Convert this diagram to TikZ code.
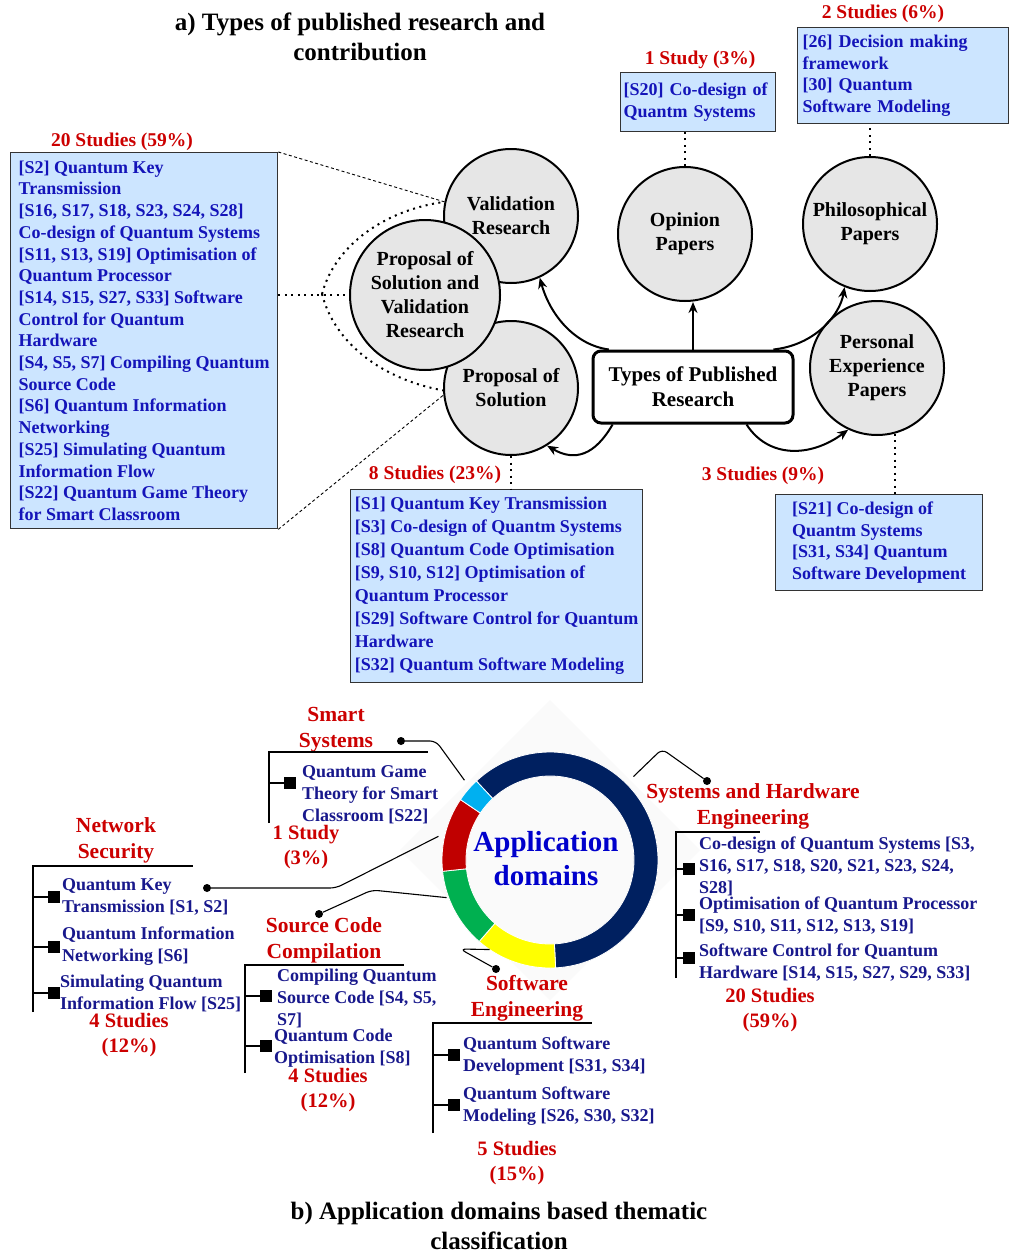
\documentclass[tikz,border=0pt]{standalone}
\usepackage{fontspec}
\setmainfont{Liberation Serif}
\usetikzlibrary{arrows.meta,positioning,calc}

\definecolor{boxblue}{RGB}{204,229,255}
\definecolor{listblue}{RGB}{20,20,185}
\definecolor{itemblue}{RGB}{24,24,140}
\definecolor{appblue}{RGB}{0,0,204}
\definecolor{studyred}{RGB}{204,0,0}
\definecolor{circlegray}{RGB}{230,230,230}
\definecolor{ringnavy}{RGB}{0,32,96}
\definecolor{ringcyan}{RGB}{0,176,240}
\definecolor{ringred}{RGB}{192,0,0}
\definecolor{ringgreen}{RGB}{0,176,80}
\definecolor{ringyellow}{RGB}{255,255,0}

\tikzset{
    type-circle/.style = {draw=black, fill=circlegray, line width=2pt, circle, minimum size=134pt, inner sep=0pt, align=center, font=\bfseries\fontsize{20}{24}\selectfont},
    type-box/.style = {draw=black, fill=white, line width=3pt, rectangle, rounded corners=8pt, minimum width=200pt, minimum height=72pt, align=center, font=\bfseries\fontsize{21}{25}\selectfont},
    study-box/.style = {draw=black!80, fill=boxblue, line width=1.3pt, rectangle, anchor=north west, inner ysep=0pt, align=left, text=listblue, font=\bfseries\fontsize{18}{21.7}\selectfont},
    study-count/.style = {text=studyred, inner sep=0pt, font=\bfseries\fontsize{19.5}{23}\selectfont},
    type-arrow/.style = {-{Stealth[length=11pt,width=9pt]}, line width=2pt},
    dotted-link/.style = {line width=2pt, dash pattern=on 2pt off 4.5pt},
    dashed-link/.style = {line width=0.9pt, dash pattern=on 3pt off 2.5pt},
    title-text/.style = {align=center, inner sep=0pt, font=\bfseries\fontsize{25}{30}\selectfont},
    domain-label/.style = {align=center, inner sep=0pt, text=studyred, font=\bfseries\fontsize{21.5}{26}\selectfont},
    count-label/.style = {align=center, inner sep=0pt, text=studyred, font=\bfseries\fontsize{20.5}{25}\selectfont},
    item-text/.style = {anchor=west, align=left, inner sep=0pt, text=itemblue, font=\bfseries\fontsize{18}{22}\selectfont},
    item-mark/.style = {rectangle, fill=black, minimum size=12pt, inner sep=0pt},
    tree-line/.style = {line width=2.5pt},
    stub-line/.style = {line width=2pt},
    leader/.style = {line width=1.1pt, rounded corners=6pt},
    leader-dot/.style = {circle, fill=black, minimum size=8pt, inner sep=0pt},
}

\begin{document}
\begin{tikzpicture}[x=1pt,y=-1pt]
\path[use as bounding box, fill=white] (0,0) rectangle (1010,1255);

% ---------- a) types of published research
\node[title-text] (title-a) at (360,37) {a) Types of published research and\\contribution};

\node[study-box, minimum width=267pt, minimum height=376pt] (lbox) at (10,152)
  {[S2] Quantum Key\\Transmission\\{}[S16, S17, S18, S23, S24, S28]\\Co-design of Quantum Systems\\
   {}[S11, S13, S19] Optimisation of\\Quantum Processor\\{}[S14, S15, S27, S33] Software\\
   Control for Quantum\\Hardware\\{}[S4, S5, S7] Compiling Quantum\\Source Code\\
   {}[S6] Quantum Information\\Networking\\{}[S25] Simulating Quantum\\Information Flow\\
   {}[S22] Quantum Game Theory\\for Smart Classroom};
\node[study-count] (lbox-count) at (122,142) {20 Studies (59\%)};

\node[study-box, inner xsep=3pt, text width=149pt, minimum height=59pt] (s20-box) at (620,72)
  {[S20] Co-design of\\Quantm Systems};
\node[study-count] (s20-count) at (700,60) {1 Study (3\%)};

\node[study-box, inner xsep=5pt, text width=201pt, minimum height=96pt] (phil-box) at (797,27)
  {[26] Decision making\\framework\\{}[30] Quantum\\Software Modeling};
\node[study-count] (phil-count) at (883,14) {2 Studies (6\%)};

\node[study-box, minimum width=292pt, minimum height=193pt, font=\bfseries\fontsize{18}{23}\selectfont] (sol-box) at (350,489)
  {[S1] Quantum Key Transmission\\{}[S3] Co-design of Quantm Systems\\{}[S8] Quantum Code Optimisation\\
   {}[S9, S10, S12] Optimisation of\\Quantum Processor\\{}[S29] Software Control for Quantum\\
   Hardware\\{}[S32] Quantum Software Modeling};
\node[study-count] (sol-count) at (435,475) {8 Studies (23\%)};

\node[study-box, minimum width=207pt, minimum height=96pt] (exp-box) at (775,494)
  {[S21] Co-design of\\Quantm Systems\\{}[S31, S34] Quantum\\Software Development};
\node[study-count] (exp-count) at (763,476) {3 Studies (9\%)};

\node[type-circle] (validation) at (511,216) {Validation\\Research};
\node[type-circle] (proposal) at (511,388) {Proposal of\\Solution};
\node[type-circle] (opinion) at (685,234) {Opinion\\Papers};
\node[type-circle] (philosophical) at (870,224) {Philosophical\\Papers};
\node[type-circle] (personal) at (877,368) {Personal\\Experience\\Papers};
\node[type-box] (types) at (693,387) {Types of Published\\Research};

% links from the left box
\coordinate (fan) at (322,294);
\draw[dashed-link] (lbox.north east) -- (validation.168);
\draw[dashed-link] (lbox.south east) -- (proposal.186);
\draw[dotted-link] (fan) .. controls (335,245) and (385,210) .. (validation.168);
\draw[dotted-link] (fan) .. controls (335,345) and (385,380) .. (proposal.182);

\node[type-circle, minimum size=150pt] (propval) at (425,295) {Proposal of\\Solution and\\Validation\\Research};
\draw[dotted-link] (lbox.east |- propval.west) -- (propval.west);

% links to the other boxes
\draw[dotted-link] (opinion.north) -- (opinion.north |- s20-box.south);
\draw[dotted-link] (philosophical.north) -- (philosophical.north |- phil-box.south);
\draw[dotted-link] (proposal.south) -- (proposal.south |- sol-box.north);
\draw[dotted-link] (personal.-75) -- (personal.-75 |- exp-box.north);

% arrows from the centre box
\draw[type-arrow] (types.156) .. controls (575,345) and (550,315) .. (validation.-65);
\draw[type-arrow] (types.north) -- (types.north |- opinion.south);
\draw[type-arrow] (types.25) .. controls (815,345) and (840,315) .. (philosophical.-112);
\draw[type-arrow] (types.205) .. controls (595,455) and (575,462) .. (proposal.-58);
\draw[type-arrow] (types.-35) .. controls (768,458) and (810,458) .. (personal.-115);

% ---------- b) application domains
\fill[black!2] (550,700) -- (700,850) -- (550,1000) -- (400,850) -- cycle;
\begin{scope}[shift={(550,860)}, y=1pt]
  \foreach \a/\b/\c in {133/-87/ringnavy, -87/-131/ringyellow, -131/-174/ringgreen, 186/146/ringred, 146/133/ringcyan}
    \filldraw[fill=\c, draw=white, line width=0.8pt] (\a:108) arc[start angle=\a, end angle=\b, radius=108]
      -- (\b:84) arc[start angle=\b, end angle=\a, radius=84] -- cycle;
  \coordinate (ring-cyan) at (137:117);
  \coordinate (ring-red) at (168:114);
  \coordinate (ring-green) at (200:110);
  \coordinate (ring-yellow) at (236:108);
  \coordinate (ring-navy) at (45:118);
\end{scope}
\node[align=center, text=appblue, font=\bfseries\fontsize{29}{34}\selectfont] (app) at (546,859) {Application\\domains};

% smart systems
\node[domain-label] (smart-label) at (336,730) {Smart\\Systems};
\node[leader-dot] (smart-dot) at (401,741) {};
\draw[leader] (smart-dot) -- (436,741) -- (ring-cyan);
\draw[tree-line] (269,823) |- (428,752);
\node[item-mark] (smart-m1) at (290,783) {};
\draw[stub-line] (269,783) -- (smart-m1);
\node[item-text] (smart-t1) at (302,795) {Quantum Game\\Theory for Smart\\Classroom [S22]};
\node[count-label] (smart-count) at (306,847) {1 Study\\(3\%)};

% network security
\node[domain-label] (net-label) at (116,840) {Network\\Security};
\node[leader-dot] (net-dot) at (207,888) {};
\draw[leader] (net-dot) -- (336,888) -- (ring-red);
\draw[tree-line] (33,1012) |- (193,866);
\foreach \y/\n in {897/1, 947/2, 993/3} {
  \node[item-mark] (net-m\n) at (54,\y) {};
  \draw[stub-line] (33,\y) -- (net-m\n);
}
\node[item-text] (net-t1) at (62,897) {Quantum Key\\Transmission [S1, S2]};
\node[item-text] (net-t2) at (62,946) {Quantum Information\\Networking [S6]};
\node[item-text] (net-t3) at (60,993) {Simulating Quantum\\Information Flow [S25]};
\node[count-label] (net-count) at (129,1035) {4 Studies\\(12\%)};

% source code compilation
\node[domain-label] (src-label) at (324,940) {Source Code\\Compilation};
\node[leader-dot] (src-dot) at (319,914) {};
\draw[leader] (src-dot) -- (372,890) -- (ring-green);
\draw[tree-line] (245,1073) |- (404,965);
\foreach \y/\n in {996/1, 1046/2} {
  \node[item-mark] (src-m\n) at (266,\y) {};
  \draw[stub-line] (245,\y) -- (src-m\n);
}
\node[item-text] (src-t1) at (277,998) {Compiling Quantum\\Source Code [S4, S5,\\S7]};
\node[item-text] (src-t2) at (274,1048) {Quantum Code\\Optimisation [S8]};
\node[count-label] (src-count) at (328,1090) {4 Studies\\(12\%)};

% software engineering
\node[domain-label] (sw-label) at (527,998) {Software\\Engineering};
\node[leader-dot] (sw-dot) at (496,969) {};
\draw[leader] (sw-dot) -- (460,949) -- (ring-yellow);
\draw[tree-line] (433,1133) |- (592,1023);
\foreach \y/\n in {1055/1, 1105/2} {
  \node[item-mark] (sw-m\n) at (454,\y) {};
  \draw[stub-line] (433,\y) -- (sw-m\n);
}
\node[item-text] (sw-t1) at (463,1056) {Quantum Software\\Development [S31, S34]};
\node[item-text] (sw-t2) at (463,1106) {Quantum Software\\Modeling [S26, S30, S32]};
\node[count-label] (sw-count) at (517,1163) {5 Studies\\(15\%)};

% systems and hardware engineering
\node[domain-label] (sys-label) at (753,806) {Systems and Hardware\\Engineering};
\node[leader-dot] (sys-dot) at (707,781) {};
\draw[leader] (sys-dot) -- (662,749) -- (ring-navy);
\draw[tree-line] (676,978) |- (760,832);
\foreach \y/\n in {869/1, 915/2, 958/3} {
  \node[item-mark] (sys-m\n) at (689,\y) {};
  \draw[stub-line] (676,\y) -- (sys-m\n);
}
\node[item-text] (sys-t1) at (699,866) {Co-design of Quantum Systems [S3,\\S16, S17, S18, S20, S21, S23, S24,\\S28]};
\node[item-text] (sys-t2) at (699,916) {Optimisation of Quantum Processor\\{}[S9, S10, S11, S12, S13, S19]};
\node[item-text] (sys-t3) at (699,963) {Software Control for Quantum\\Hardware [S14, S15, S27, S29, S33]};
\node[count-label] (sys-count) at (770,1010) {20 Studies\\(59\%)};

\node[title-text] (title-b) at (499,1226) {b) Application domains based thematic\\classification};
\end{tikzpicture}
\end{document}
